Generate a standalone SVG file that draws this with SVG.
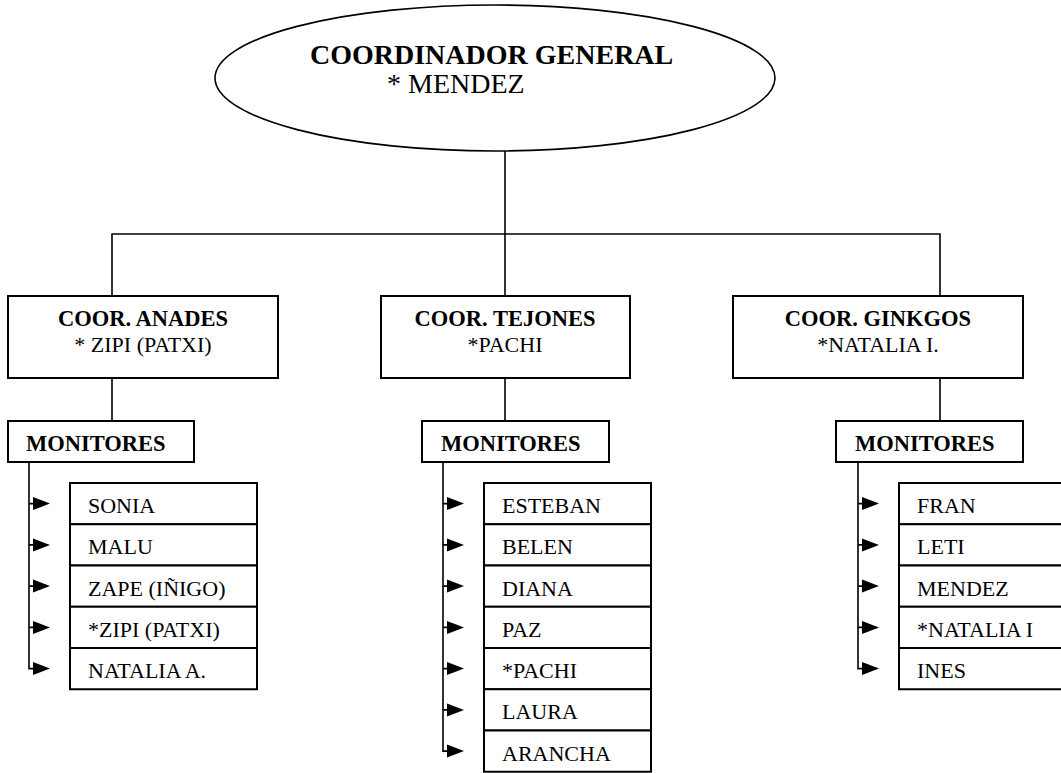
<svg xmlns="http://www.w3.org/2000/svg" width="1061" height="773" viewBox="0 0 1061 773">
<defs>
<style>
.box{fill:#fff;stroke:#000;stroke-width:2}
.ln{fill:none;stroke:#000;stroke-width:1.6}
.b{font-family:"Liberation Serif","Times New Roman",serif;font-weight:bold;font-size:22.5px;fill:#000}
.r{font-family:"Liberation Serif","Times New Roman",serif;font-size:22px;fill:#000}
.c{text-anchor:middle}
</style>
<path id="ah" d="M0,0 L-17,-6.5 L-17,6.5 Z" fill="#000"/>
</defs>
<g id="connectors">
<path class="ln" d="M505,151 V296 M112,296 V234 H940 V296"/>
<path class="ln" d="M112,378 V421 M505,378 V421 M940,378 V421"/>
<path class="ln" d="M29,462 V668.6 H36 M443,462 V751.1 H450 M858,462 V668.6 H865"/>
<path class="ln" d="M29,503.6 H36 M29,544.9 H36 M29,586.1 H36 M29,627.4 H36 M443,503.6 H450 M443,544.9 H450 M443,586.1 H450 M443,627.4 H450 M443,668.6 H450 M443,709.9 H450 M858,503.6 H865 M858,544.9 H865 M858,586.1 H865 M858,627.4 H865"/>
<use href="#ah" x="50" y="503.6"/><use href="#ah" x="50" y="544.9"/><use href="#ah" x="50" y="586.1"/><use href="#ah" x="50" y="627.4"/><use href="#ah" x="50" y="668.6"/>
<use href="#ah" x="464" y="503.6"/><use href="#ah" x="464" y="544.9"/><use href="#ah" x="464" y="586.1"/><use href="#ah" x="464" y="627.4"/><use href="#ah" x="464" y="668.6"/><use href="#ah" x="464" y="709.9"/><use href="#ah" x="464" y="751.1"/>
<use href="#ah" x="879" y="503.6"/><use href="#ah" x="879" y="544.9"/><use href="#ah" x="879" y="586.1"/><use href="#ah" x="879" y="627.4"/><use href="#ah" x="879" y="668.6"/>
</g>
<g id="coordinador-general">
<ellipse cx="495" cy="78" rx="280" ry="73" fill="#fff" stroke="#000" stroke-width="1.6"/>
<text class="b" x="310" y="64" style="font-size:28px">COORDINADOR GENERAL</text>
<text class="r" x="387" y="93" style="font-size:28px">* MENDEZ</text>
</g>
<g id="coor-anades">
<rect class="box" x="8" y="296" width="270" height="82"/>
<text class="b c" x="143" y="326">COOR. ANADES</text>
<text class="r c" x="143" y="352">* ZIPI (PATXI)</text>
</g>
<g id="coor-tejones">
<rect class="box" x="381" y="296" width="249" height="82"/>
<text class="b c" x="505" y="326">COOR. TEJONES</text>
<text class="r c" x="505" y="352">*PACHI</text>
</g>
<g id="coor-ginkgos">
<rect class="box" x="733" y="296" width="290" height="82"/>
<text class="b c" x="878" y="326">COOR. GINKGOS</text>
<text class="r c" x="878" y="352">*NATALIA I.</text>
</g>
<g id="monitores-anades">
<rect class="box" x="8" y="421" width="186" height="41"/>
<text class="b" x="26" y="451">MONITORES</text>
</g>
<g id="monitores-tejones">
<rect class="box" x="422" y="421" width="187" height="41"/>
<text class="b" x="441" y="451">MONITORES</text>
</g>
<g id="monitores-ginkgos">
<rect class="box" x="836" y="421" width="187" height="41"/>
<text class="b" x="855" y="451">MONITORES</text>
</g>
<g id="lista-anades">
<rect class="box" x="70" y="483" width="187" height="41.25"/>
<rect class="box" x="70" y="524.25" width="187" height="41.25"/>
<rect class="box" x="70" y="565.5" width="187" height="41.25"/>
<rect class="box" x="70" y="606.75" width="187" height="41.25"/>
<rect class="box" x="70" y="648" width="187" height="41.25"/>
<text class="r" x="88" y="513">SONIA</text>
<text class="r" x="88" y="554.25">MALU</text>
<text class="r" x="88" y="595.5">ZAPE (IÑIGO)</text>
<text class="r" x="88" y="636.75">*ZIPI (PATXI)</text>
<text class="r" x="88" y="678">NATALIA A.</text>
</g>
<g id="lista-tejones">
<rect class="box" x="484" y="483" width="167" height="41.25"/>
<rect class="box" x="484" y="524.25" width="167" height="41.25"/>
<rect class="box" x="484" y="565.5" width="167" height="41.25"/>
<rect class="box" x="484" y="606.75" width="167" height="41.25"/>
<rect class="box" x="484" y="648" width="167" height="41.25"/>
<rect class="box" x="484" y="689.25" width="167" height="41.25"/>
<rect class="box" x="484" y="730.5" width="167" height="41.25"/>
<text class="r" x="502" y="513">ESTEBAN</text>
<text class="r" x="502" y="554.25">BELEN</text>
<text class="r" x="502" y="595.5">DIANA</text>
<text class="r" x="502" y="636.75">PAZ</text>
<text class="r" x="502" y="678">*PACHI</text>
<text class="r" x="502" y="719.25">LAURA</text>
<text class="r" x="502" y="760.5">ARANCHA</text>
</g>
<g id="lista-ginkgos">
<rect class="box" x="899" y="483" width="170" height="41.25"/>
<rect class="box" x="899" y="524.25" width="170" height="41.25"/>
<rect class="box" x="899" y="565.5" width="170" height="41.25"/>
<rect class="box" x="899" y="606.75" width="170" height="41.25"/>
<rect class="box" x="899" y="648" width="170" height="41.25"/>
<text class="r" x="917" y="513">FRAN</text>
<text class="r" x="917" y="554.25">LETI</text>
<text class="r" x="917" y="595.5">MENDEZ</text>
<text class="r" x="917" y="636.75">*NATALIA I</text>
<text class="r" x="917" y="678">INES</text>
</g>
</svg>
